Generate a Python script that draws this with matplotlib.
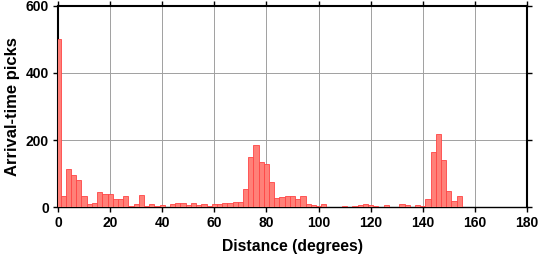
import numpy as np
import matplotlib.pyplot as plt

plt.rcParams['font.family'] = 'Liberation Sans'
plt.rcParams['font.weight'] = 'bold'

# ---------------- data: picks per 2-degree bin (bin centres 0, 2, ..., 180) ----------------
bin_centres = np.arange(0, 182, 2)
picks = [500, 34, 114, 96, 80, 33, 10, 13, 45, 40,
         40, 24, 24, 34, 4, 10, 37, 4, 10, 4,
         7, 2, 10, 13, 13, 7, 13, 8, 10, 4,
         10, 10, 12, 12, 15, 16, 54, 149, 186, 135,
         128, 75, 28, 31, 34, 33, 25, 34, 11, 7,
         4, 10, 2, 0, 0, 4, 2, 4, 7, 10,
         6, 3, 0, 7, 2, 0, 10, 7, 2, 7,
         3, 25, 165, 218, 141, 50, 18, 33, 1, 0,
         0, 0, 0, 0, 0, 0, 0, 0, 0, 0,
         0]
x_ticks = [0, 20, 40, 60, 80, 100, 120, 140, 160, 180]
y_ticks = [0, 200, 400, 600]

fig = plt.figure(figsize=(5.39, 2.58), dpi=100)
ax = fig.add_axes([0.1076, 0.1965, 0.8701, 0.7815])

ax.bar(bin_centres, picks, width=2, align='center', color='#ff8078',
       edgecolor='#ff4545', linewidth=0.6, zorder=3)

ax.set_xlim(0, 180)
ax.set_ylim(0, 600)
ax.set_xticks(x_ticks)
ax.set_yticks(y_ticks)
ax.grid(True, color='#a0a0a0', linewidth=0.7, zorder=0)
ax.set_axisbelow(True)

ax.tick_params(direction='out', length=3.5, width=1.0, labelsize=10,
               top=True, right=True, pad=3)
for lab in ax.get_xticklabels() + ax.get_yticklabels():
    lab.set_fontweight('bold')

for side in ['left', 'top', 'right']:
    ax.spines[side].set_linewidth(1.5)
ax.spines['bottom'].set_linewidth(1.0)

ax.set_xlabel('Distance (degrees)', fontsize=11.3, fontweight='bold', labelpad=6)
ax.set_ylabel('Arrival-time picks', fontsize=12, fontweight='bold', labelpad=4)

fig.savefig('out.png', dpi=100)
